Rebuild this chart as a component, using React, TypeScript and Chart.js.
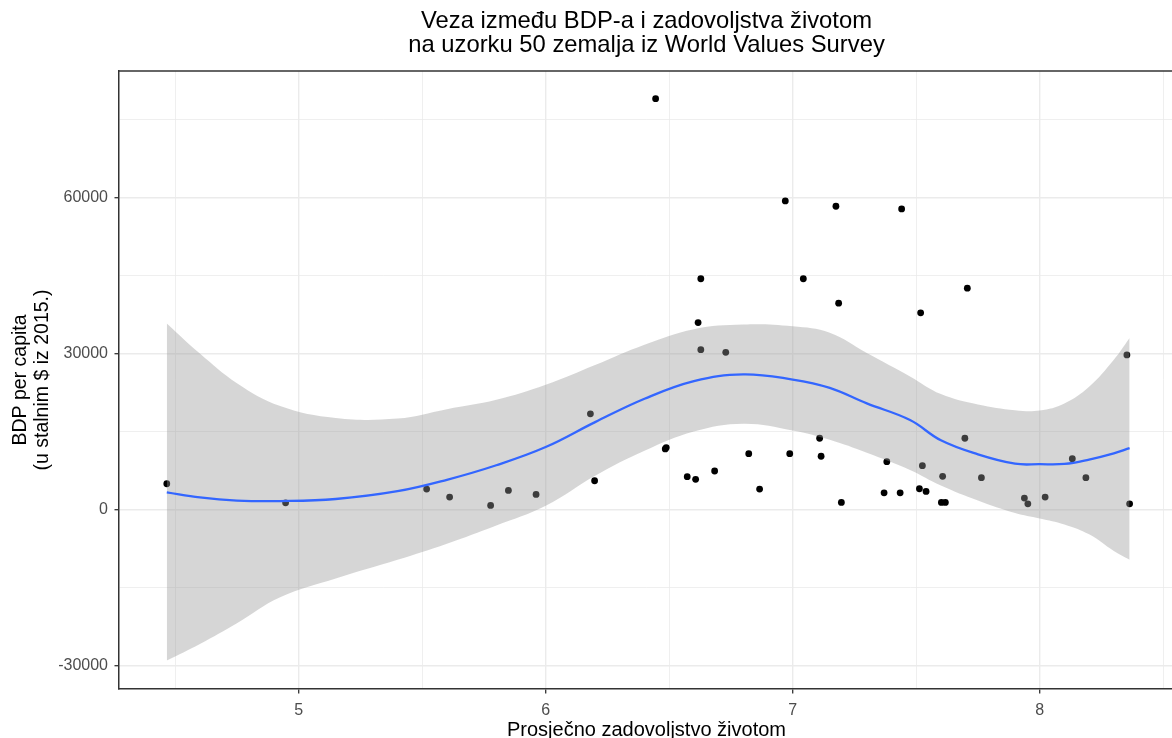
import React, { useEffect, useRef } from "react";
import { Chart, registerables } from "chart.js";

Chart.register(...registerables);

// ---- data ----
const satisfaction = [4.466, 4.947, 5.518, 5.611, 5.777, 5.849, 5.961, 6.181, 6.198, 6.445, 6.484, 6.488, 6.573, 6.607, 6.617, 6.628, 6.628, 6.684, 6.729, 6.822, 6.866, 6.97, 6.988, 7.043, 7.109, 7.115, 7.175, 7.186, 7.197, 7.37, 7.381, 7.435, 7.441, 7.513, 7.518, 7.525, 7.54, 7.602, 7.607, 7.618, 7.697, 7.707, 7.764, 7.938, 7.952, 8.022, 8.132, 8.187, 8.353, 8.364];
const gdp = [4940, 1275, 3920, 2370, 770, 3660, 2890, 18400, 5520, 79070, 11640, 11900, 6300, 5790, 35970, 44400, 30750, 7390, 30230, 10730, 3920, 59380, 10730, 44400, 13700, 10230, 58360, 39690, 1350, 3200, 9190, 3200, 57840, 3980, 37840, 8420, 3470, 1350, 6370, 1350, 13700, 42590, 6100, 2180, 1080, 2370, 9770, 6100, 29730, 1080];

const smoothX = [4.466, 4.6, 4.75, 4.925, 5.15, 5.4, 5.6, 5.8, 6.0, 6.2, 6.4, 6.6, 6.8, 7.0, 7.15, 7.3, 7.475, 7.6, 7.75, 7.9, 8.0, 8.1, 8.2, 8.3, 8.364];
const smoothFit = [3300, 2300, 1700, 1600, 2000, 3500, 5700, 8500, 12000, 16800, 21300, 24700, 26000, 25000, 23400, 20400, 17200, 13300, 10600, 8800, 8700, 8750, 9600, 10800, 11800];
const bandUpper = [35800, 30000, 24300, 19900, 17600, 17500, 19300, 21100, 24000, 27800, 31700, 34700, 35600, 35250, 34000, 30100, 25600, 22200, 20200, 19100, 19050, 20400, 23600, 28800, 33000];
const bandLower = [-29100, -25900, -21900, -16900, -13300, -9700, -6600, -3100, 700, 6500, 11300, 15000, 16500, 15200, 13400, 10900, 7600, 4600, 1700, -700, -1740, -2900, -4800, -8000, -9700];

const xTicks = [4.5, 5, 5.5, 6, 6.5, 7, 7.5, 8, 8.5];
const yTicks = [-30000, -15000, 0, 15000, 30000, 45000, 60000, 75000];

const titleLines = ["Veza između BDP-a i zadovoljstva životom", "na uzorku 50 zemalja iz World Values Survey"];
const xTitle = "Prosječno zadovoljstvo životom";
const yTitle = ["BDP per capita", "(u stalnim $ iz 2015.)"];

const FONT = "'Liberation Sans', Arial, sans-serif";

const isMajorX = (v: number) => Math.abs(v - Math.round(v)) < 1e-9;
const isMajorY = (v: number) => Math.abs(v % 30000) < 1e-9;

const topBorder = {
  id: "topBorder",
  afterDatasetsDraw(chart: any) {
    const { ctx, chartArea } = chart;
    ctx.save();
    ctx.strokeStyle = "#333333";
    ctx.lineWidth = 1.5;
    ctx.beginPath();
    ctx.moveTo(chartArea.left, chartArea.top);
    ctx.lineTo(chartArea.right, chartArea.top);
    ctx.stroke();
    ctx.restore();
  },
};

export default function App() {
  const ref = useRef<HTMLCanvasElement>(null);

  useEffect(() => {
    const canvas = ref.current;
    if (!canvas) return;
    const points = satisfaction.map((x, i) => ({ x, y: gdp[i] }));
    const fit = smoothX.map((x, i) => ({ x, y: smoothFit[i] }));
    const upper = smoothX.map((x, i) => ({ x, y: bandUpper[i] }));
    const lower = smoothX.map((x, i) => ({ x, y: bandLower[i] }));

    const chart = new Chart(canvas, {
      type: "scatter",
      data: {
        datasets: [
          {
            label: "zemlje",
            type: "scatter",
            data: points,
            backgroundColor: "#000000",
            borderWidth: 0,
            pointRadius: 3.4,
            order: 3,
          } as any,
          {
            label: "upper",
            type: "line",
            data: upper,
            borderWidth: 0,
            borderColor: "rgba(0,0,0,0)",
            backgroundColor: "rgba(153,153,153,0.4)",
            pointRadius: 0,
            fill: "+1",
            tension: 0.4,
            order: 2,
          } as any,
          {
            label: "lower",
            type: "line",
            data: lower,
            borderWidth: 0,
            borderColor: "rgba(0,0,0,0)",
            pointRadius: 0,
            fill: false,
            tension: 0.4,
            order: 2,
          } as any,
          {
            label: "loess",
            type: "line",
            data: fit,
            borderColor: "#3366FF",
            borderWidth: 2.3,
            pointRadius: 0,
            fill: false,
            tension: 0.4,
            order: 1,
          } as any,
        ],
      },
      options: {
        responsive: false,
        animation: false,
        devicePixelRatio: 1,
        layout: { padding: { left: 0, right: 118, top: 0, bottom: 0 } },
        plugins: {
          legend: { display: false },
          tooltip: { enabled: false },
          title: {
            display: true,
            fullSize: false,
            text: titleLines,
            color: "#000000",
            font: { family: FONT, size: 23.8, weight: "normal", lineHeight: 1 },
            padding: { top: 9.6, bottom: 13.8 },
          },
        },
        scales: {
          x: {
            type: "linear",
            min: 4.2725,
            max: 8.5437,
            afterFit: (s: any) => {
              s.height = 49;
            },
            afterBuildTicks: (s: any) => {
              s.ticks = xTicks.map((v) => ({ value: v }));
            },
            ticks: {
              autoSkip: false,
              maxRotation: 0,
              minRotation: 0,
              padding: 7.4,
              color: "#4d4d4d",
              font: { family: FONT, size: 16 },
              callback: (v: any) => (isMajorX(Number(v)) ? String(v) : ""),
            },
            grid: {
              color: "#ebebeb",
              lineWidth: (c: any) => (c.tick && isMajorX(c.tick.value) ? 1.4 : 0.8),
              tickColor: (c: any) => (c.tick && isMajorX(c.tick.value) ? "#333333" : "rgba(0,0,0,0)"),
              tickLength: 4.5,
              tickWidth: 1.3,
            },
            border: { display: true, color: "#333333", width: 1.5 },
            title: {
              display: true,
              text: xTitle,
              color: "#000000",
              font: { family: FONT, size: 20, lineHeight: 1 },
              padding: { top: 0, bottom: -2 },
            },
          } as any,
          y: {
            type: "linear",
            min: -34570,
            max: 84390,
            afterFit: (s: any) => {
              s.width = 119;
            },
            afterBuildTicks: (s: any) => {
              s.ticks = yTicks.map((v) => ({ value: v }));
            },
            ticks: {
              autoSkip: false,
              padding: 6.5,
              color: "#4d4d4d",
              font: { family: FONT, size: 16 },
              callback: (v: any) => (isMajorY(Number(v)) ? String(v) : ""),
            },
            grid: {
              color: "#ebebeb",
              lineWidth: (c: any) => (c.tick && isMajorY(c.tick.value) ? 1.4 : 0.8),
              tickColor: (c: any) => (c.tick && isMajorY(c.tick.value) ? "#333333" : "rgba(0,0,0,0)"),
              tickLength: 4.5,
              tickWidth: 1.3,
            },
            border: { display: true, color: "#333333", width: 1.5 },
            title: {
              display: true,
              text: yTitle,
              color: "#000000",
              font: { family: FONT, size: 19.5, lineHeight: 1.128 },
              padding: { top: 10, bottom: 0 },
            },
          } as any,
        },
      },
      plugins: [topBorder],
    });

    return () => chart.destroy();
  }, []);

  return (
    <div
      style={{
        position: "fixed",
        left: 0,
        top: 0,
        width: 1172,
        height: 738,
        overflow: "hidden",
        background: "#ffffff",
      }}
    >
      <canvas ref={ref} width={1292} height={738} style={{ display: "block", width: 1292, height: 738 }} />
    </div>
  );
}
